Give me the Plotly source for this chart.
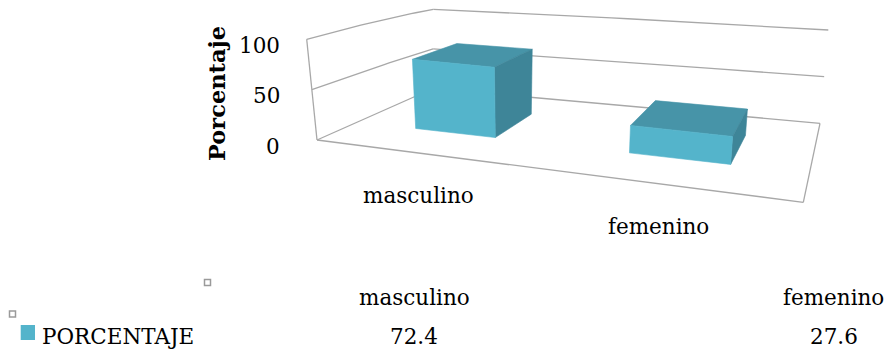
import plotly.graph_objects as go

# ---------------- data ----------------
categories = ["masculino", "femenino"]
values = [72.4, 27.6]
series_name = "PORCENTAJE"
value_ticks = [0, 50, 100]
value_max = 100
axis_title = "Porcentaje"

# ---------------- layout / style constants ----------------
W, H = 890, 349
FONT = "DejaVu Serif"
FS = 21.5
GRID = "#A8A8A8"
C_FRONT = "#54B4CB"
C_TOP = "#4794A8"
C_SIDE = "#3E8598"
# floor corners in pixel space: (X0,Z0),(X1,Z0),(X1,Z1),(X0,Z1)
FLOOR = [(317.0, 140.0), (803.3, 202.3), (820.0, 123.3), (433.0, 88.5)]
# screen displacement of a full-scale (value_max) column at the same floor corners
RISE = [(-10.3, -100.7), (10.0, -106.0), (8.3, -93.3), (0.3, -79.2)]
BAR_W = 0.4
BAR_SHIFT = 0.015
Z0, Z1 = 0.3, 0.7


def quad_map(q):
    (x0, y0), (x1, y1), (x2, y2), (x3, y3) = q
    sx = x0 - x1 + x2 - x3
    sy = y0 - y1 + y2 - y3
    dx1, dx2 = x1 - x2, x3 - x2
    dy1, dy2 = y1 - y2, y3 - y2
    det = dx1 * dy2 - dx2 * dy1
    g = (sx * dy2 - dx2 * sy) / det
    h = (dx1 * sy - sx * dy1) / det
    a, b, c = x1 - x0 + g * x1, x3 - x0 + h * x3, x0
    d, e, f = y1 - y0 + g * y1, y3 - y0 + h * y3, y0

    def m(u, v):
        w = g * u + h * v + 1
        return (a * u + b * v + c) / w, (d * u + e * v + f) / w
    return m


def bilin(q, u, v):
    (x0, y0), (x1, y1), (x2, y2), (x3, y3) = q
    w0, w1, w2, w3 = (1 - u) * (1 - v), u * (1 - v), u * v, (1 - u) * v
    return (w0 * x0 + w1 * x1 + w2 * x2 + w3 * x3,
            w0 * y0 + w1 * y1 + w2 * y2 + w3 * y3)


H0 = quad_map(FLOOR)
NCAT = len(categories)


def proj(X, Z, val):
    u = X / NCAT
    t = val / value_max
    x0, y0 = H0(u, Z)
    dx, dy = bilin(RISE, u, Z)
    return x0 + t * dx, y0 + t * dy


def seg(p, q, n=24):
    xs, ys = [], []
    for k in range(n + 1):
        s = k / n
        x, y = proj(*[p[j] + s * (q[j] - p[j]) for j in range(3)])
        xs.append(x)
        ys.append(y)
    return xs, ys


fig = go.Figure()

# walls, gridlines and floor outline
gx, gy = [], []
lines = []
for v in value_ticks:
    lines.append(((0, 0, v), (0, 1, v)))          # left wall
    lines.append(((0, 1, v), (NCAT, 1, v)))       # back wall
lines.append(((0, 0, 0), (0, 0, value_max)))     # front-left edge
lines.append(((0, 0, 0), (NCAT, 0, 0)))          # floor front
lines.append(((NCAT, 0, 0), (NCAT, 1, 0)))       # floor right
for p, q in lines:
    xs, ys = seg(p, q)
    gx += xs + [None]
    gy += ys + [None]
fig.add_trace(go.Scatter(x=gx, y=gy, mode="lines", line=dict(color=GRID, width=1.3),
                         hoverinfo="skip", showlegend=False))

# bars (3D boxes)
for i, (cat, val) in enumerate(zip(categories, values)):
    xc = i + 0.5 + BAR_SHIFT
    xa, xb = xc - BAR_W / 2, xc + BAR_W / 2
    faces = [
        ([(xa, Z0, val), (xb, Z0, val), (xb, Z1, val), (xa, Z1, val)], C_TOP),
        ([(xb, Z0, 0), (xb, Z1, 0), (xb, Z1, val), (xb, Z0, val)], C_SIDE),
        ([(xa, Z0, 0), (xb, Z0, 0), (xb, Z0, val), (xa, Z0, val)], C_FRONT),
    ]
    for pts, col in faces:
        px, py = [], []
        for P in pts + [pts[0]]:
            x, y = proj(*P)
            px.append(x)
            py.append(y)
        fig.add_trace(go.Scatter(x=px, y=py, mode="lines", fill="toself", fillcolor=col,
                                 line=dict(color=col, width=0.6), hoverinfo="skip",
                                 showlegend=False, name=cat))

ann = []
txt = dict(family=FONT, size=FS, color="#000")
# value axis tick labels
for v in value_ticks:
    _, y = proj(0, 0, v)
    ann.append(dict(x=282, y=y + 6, text=str(v), xanchor="right", yanchor="middle",
                    showarrow=False, font=txt))
# axis title
ann.append(dict(x=217, y=94, text="<b>%s</b>" % axis_title, textangle=-90,
                xanchor="center", yanchor="middle", showarrow=False,
                font=dict(family=FONT, size=22.5, color="#000")))
# category labels
for i, cat in enumerate(categories):
    x, y = proj(i + 0.5, 0, 0)
    ann.append(dict(x=x + 2, y=y + 50.3 - 0.346 * FS, text=cat, xanchor="center",
                    yanchor="middle", showarrow=False, font=txt))
# data table
TABLE_X0, COL_W = 204.5, 419.5
ROW1_BASE, ROW2_BASE = 305, 344
for i, (cat, val) in enumerate(zip(categories, values)):
    cx = TABLE_X0 + COL_W * (i + 0.5)
    ann.append(dict(x=cx, y=ROW1_BASE - 0.346 * FS, text=cat, xanchor="center",
                    yanchor="middle", showarrow=False, font=txt))
    ann.append(dict(x=cx, y=ROW2_BASE - 0.346 * FS, text=str(val), xanchor="center",
                    yanchor="middle", showarrow=False, font=txt))
ann.append(dict(x=39.5, y=ROW2_BASE - 0.346 * FS, text=series_name, xanchor="left",
                yanchor="middle", showarrow=False, font=txt))

shapes = [
    dict(type="rect", x0=20.7, x1=35, y0=325, y1=340, fillcolor=C_FRONT,
         line=dict(width=0), xref="x", yref="y"),
    dict(type="rect", x0=204.5, x1=210.5, y0=279.5, y1=285.5,
         line=dict(color="#9A9A9A", width=1.5), xref="x", yref="y"),
    dict(type="rect", x0=9.5, x1=15.5, y0=311, y1=317,
         line=dict(color="#9A9A9A", width=1.5), xref="x", yref="y"),
]

fig.update_layout(
    width=W, height=H, margin=dict(l=0, r=0, t=0, b=0),
    paper_bgcolor="white", plot_bgcolor="white",
    xaxis=dict(range=[0, W], visible=False, fixedrange=True),
    yaxis=dict(range=[H, 0], visible=False, fixedrange=True),
    annotations=ann, shapes=shapes, showlegend=False,
)
fig.write_html("out.html")
